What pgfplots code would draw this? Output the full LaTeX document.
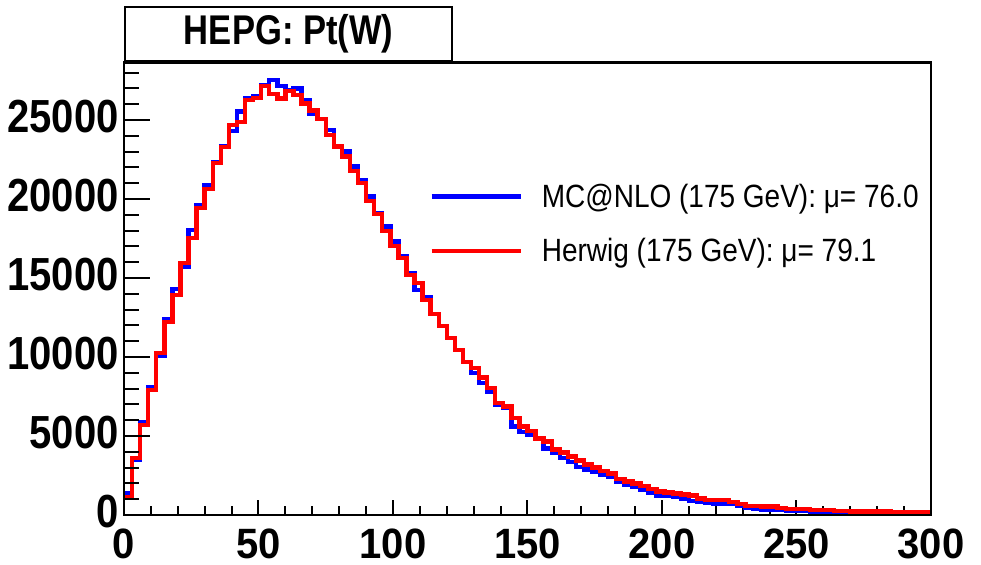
\documentclass[border=0pt]{standalone}
\usepackage{graphicx}
\usepackage{fontspec}
\setmainfont{Liberation Sans}
\usepackage{pgfplots}
\usepackage{pgfplotstable}
\pgfplotsset{compat=1.18}

\pgfplotstableread{
x mc hw
0 1390 1140
3 3500 3600
6 5900 5700
9 8100 7900
12 10050 10250
15 12400 12230
18 14300 13920
21 15700 15950
24 18040 17530
27 19580 19430
30 20890 20630
33 22360 22280
36 23360 23290
39 24300 24680
42 25530 24890
45 26390 26270
48 26480 26400
51 27200 27150
54 27530 26650
57 27150 26350
60 26900 26820
63 27000 26600
66 26270 26050
69 25420 25600
72 25080 25080
75 24370 24050
78 23360 23330
81 23000 22700
84 22050 21780
87 21200 21000
90 20150 19880
93 19100 19050
96 18250 17980
99 17300 17020
102 16350 16280
105 15300 15190
108 14240 14700
111 13800 13600
114 12720 12720
117 11960 11960
120 11200 11200
123 10440 10440
126 9700 9700
129 8990 9300
132 8350 8700
135 7800 8040
138 6960 7090
141 6770 6860
144 5590 6150
147 5270 5590
150 5100 5300
153 4800 4850
156 4200 4650
159 3950 4150
162 3600 3950
165 3350 3700
168 3050 3450
171 2880 3200
174 2720 3000
177 2540 2780
180 2430 2620
183 2100 2280
186 1900 2130
189 1760 2000
192 1580 1835
195 1410 1650
198 1200 1475
201 1200 1420
204 1150 1370
207 1055 1300
210 900 1230
213 840 1055
216 780 950
219 700 950
222 680 930
225 680 840
228 560 690
231 480 580
234 400 580
237 340 540
240 316 525
243 300 430
246 280 370
249 260 360
252 240 360
255 150 320
258 150 320
261 160 310
264 140 250
267 130 240
270 120 230
273 110 225
276 100 220
279 95 215
282 90 210
285 85 205
288 80 200
291 75 195
294 70 190
297 65 185
300 65 185
}\histdata

\definecolor{rootblue}{RGB}{0,0,255}
\definecolor{rootred}{RGB}{255,0,0}

\newcommand{\tickfont}{\fontsize{20}{24}\selectfont\bfseries}

\begin{document}
\begin{tikzpicture}
% main axis: data, x ticks, legend
\begin{axis}[
  scale only axis,
  width=403.5pt, height=226.25pt,
  xmin=0, xmax=300, ymin=0, ymax=28640,
  axis line style={line width=1.2pt},
  xtick={0,50,...,300},
  minor xtick={10,20,...,290},
  ytick=\empty,
  tick align=inside,
  xtick pos=bottom,
  major tick length=7.5pt,
  minor tick length=4.5pt,
  tick style={line width=1pt, black},
  /pgf/number format/assume math mode=true,
  /pgf/number format/1000 sep={},
  xticklabel style={font=\tickfont, yscale=1.06, inner sep=0pt, yshift=-6.5pt},
  legend cell align=left,
  legend style={draw=none, fill=none, at={(rel axis cs:0.378,0.643)}, anchor=west,
    font=\fontsize{14}{16}\selectfont, inner sep=0pt, row sep=14pt, column sep=9.5pt,
    nodes={inner sep=0pt}},
  legend image code/.code={\draw[#1, line width=2.2pt] (0pt,0.02em) -- (44.5pt,0.02em);},
]
\addplot[rootblue, line width=2.2pt, const plot mark left] table[x=x, y=mc] {\histdata};
\addlegendentry{\scalebox{1}[1.15]{MC@NLO (175 GeV): μ= 76.0}}
\addplot[rootred, line width=2.2pt, const plot mark left] table[x=x, y=hw] {\histdata};
\addlegendentry{\scalebox{1}[1.15]{Herwig (175 GeV): μ= 79.1}}
\end{axis}
% second axis: y ticks only
\begin{axis}[
  scale only axis,
  width=403.5pt, height=226.25pt,
  xmin=0, xmax=300, ymin=0, ymax=28640,
  axis line style={line width=1.2pt},
  xtick=\empty,
  ytick={0,5000,...,25000},
  minor ytick={1000,2000,...,28000},
  tick align=inside,
  ytick pos=left,
  major tick length=13pt,
  minor tick length=7.5pt,
  tick style={line width=1pt, black},
  scaled y ticks=false,
  /pgf/number format/assume math mode=true,
  /pgf/number format/1000 sep={},
  yticklabel style={font=\tickfont, yscale=1.16, inner sep=0pt, xshift=-2.5pt, yshift=1.5pt},
]
\end{axis}
% title box
\node[draw, line width=1.2pt, fill=white, minimum width=163.5pt, minimum height=27.25pt,
  anchor=south west, inner sep=0pt] at (0pt,226.25pt)
  {\scalebox{1}[1.2]{\fontsize{17.3}{20}\selectfont\bfseries HEPG: Pt(W)}};
\pgfresetboundingbox
\useasboundingbox (-62pt,-25pt) rectangle (428.5pt,257.5pt);
\end{tikzpicture}
\end{document}
